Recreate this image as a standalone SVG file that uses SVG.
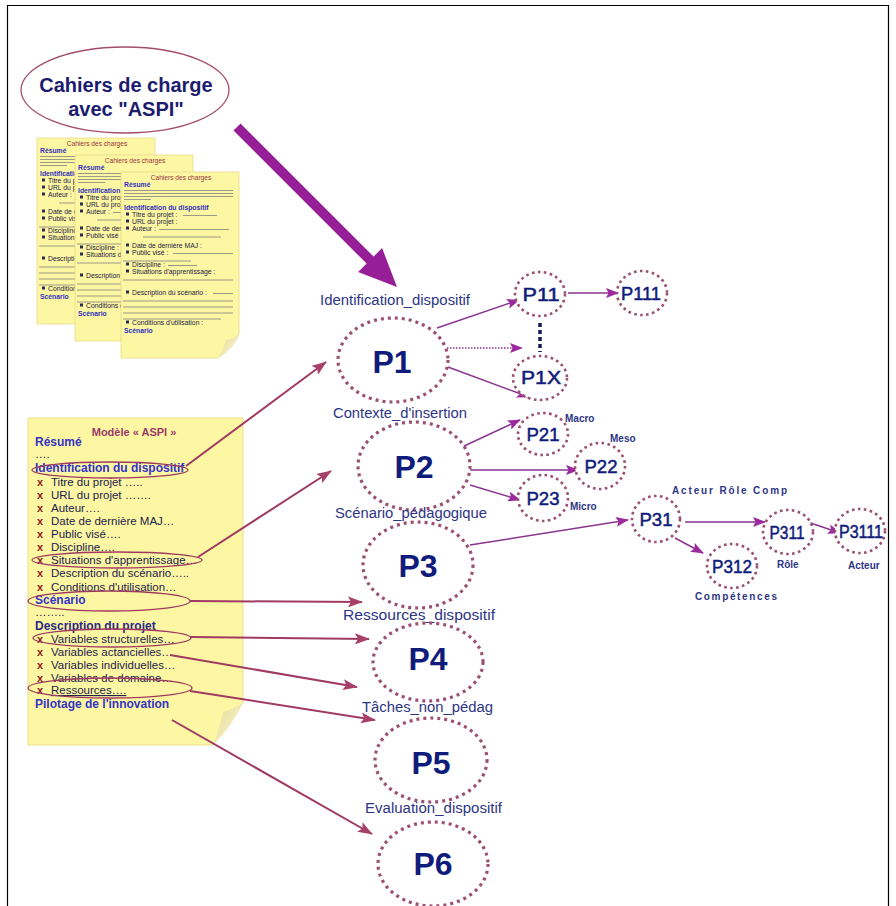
<svg xmlns="http://www.w3.org/2000/svg" width="896" height="906" viewBox="0 0 896 906">
<defs>
<style>
text{font-family:"Liberation Sans",Arial,sans-serif}
.frame{fill:none;stroke:#000;stroke-width:1.2}
.page{fill:#fdf6a2;stroke:#e6dc8a;stroke-width:0.8}
.flap{fill:url(#flapG)}
.pt{font-size:6.6px;fill:#993344}
.ph{font-size:6.8px;font-weight:bold;fill:#3030c0}
.pi{font-size:6.8px;fill:#222244}
.pg{stroke:#9a9a88;stroke-width:1.1;fill:none}
.pb{fill:#2a2a55}
.doc{fill:#fdf7a4;stroke:#eadf8c;stroke-width:1}
.dh{font-size:12px;font-weight:bold;fill:#3434c8}
.dh2{font-size:12px;font-weight:bold;fill:#2a2a86}
.di{font-size:11.5px;fill:#22224c}
.dx{font-size:11px;font-weight:bold;fill:#8b1c1c}
.hl{fill:none;stroke:#9e3a60;stroke-width:1.3}
.big{fill:#ffffff;stroke:#9a5072;stroke-width:3.2;stroke-dasharray:3 4}
.small{fill:#ffffff;stroke:#9a5072;stroke-width:2.6;stroke-dasharray:2.6 3.4}
.bl{font-size:32px;font-weight:bold;fill:#101c7c;text-anchor:middle}
.sl{font-size:18px;fill:#101c7c;stroke:#101c7c;stroke-width:0.5;text-anchor:middle}
.lab{font-size:14px;fill:#2d3585}
.tag{font-size:10px;font-weight:bold;fill:#2d3585}
.ca{stroke:#a03a63;stroke-width:2;fill:none}
.na{stroke:#8a3590;stroke-width:1.5;fill:none}
</style>
<linearGradient id="flapG" x1="0" y1="0" x2="1" y2="1">
<stop offset="0" stop-color="#e2d78a"/>
<stop offset="1" stop-color="#fffbe2"/>
</linearGradient>
<marker id="mc" viewBox="0 0 15 11" refX="14" refY="5.5" markerWidth="15" markerHeight="11" markerUnits="userSpaceOnUse" orient="auto">
<path d="M0,0 L15,5.5 L0,11 L3,5.5 Z" fill="#a8406c"/>
</marker>
<marker id="mn" viewBox="0 0 13 10" refX="12" refY="5" markerWidth="13" markerHeight="10" markerUnits="userSpaceOnUse" orient="auto">
<path d="M0,0 L13,5 L0,10 L2.5,5 Z" fill="#9a2a9e"/>
</marker>
<g id="pageTpl">
<path class="page" d="M0,0 H118 V162 Q112,177 97,186 H0 Z"/>
<path class="flap" d="M118,162 Q112,177 97,186 Q103,176 105,168 Q112,167 118,162 Z"/>
<text class="pt" x="60" y="8" text-anchor="middle">Cahiers des charges</text>
<text class="ph" x="3" y="15">Résumé</text>
<path class="pg" d="M3,18.5 H112 M3,21.5 H112 M3,24.5 H112 M3,27.5 H30"/>
<text class="ph" x="3" y="38">Identification du dispositif</text>
<rect class="pb" x="5" y="40.5" width="3" height="3"/>
<text class="pi" x="11" y="45">Titre du projet :</text>
<path class="pg" d="M62,43.5 H96"/>
<rect class="pb" x="5" y="47.5" width="3" height="3"/>
<text class="pi" x="11" y="52">URL du projet :</text>
<rect class="pb" x="5" y="54.5" width="3" height="3"/>
<text class="pi" x="11" y="59">Auteur :</text>
<path class="pg" d="M38,57.5 H108 M22,65 H100"/>
<rect class="pb" x="5" y="71.5" width="3" height="3"/>
<text class="pi" x="11" y="76">Date de dernière MAJ :</text>
<rect class="pb" x="5" y="78.5" width="3" height="3"/>
<text class="pi" x="11" y="83">Public visé :</text>
<path class="pg" d="M52,81.5 H112 M2,89 H70"/>
<rect class="pb" x="5" y="90.5" width="3" height="3"/>
<text class="pi" x="11" y="95">Discipline :</text>
<path class="pg" d="M47,93.5 H76"/>
<rect class="pb" x="5" y="97.5" width="3" height="3"/>
<text class="pi" x="11" y="102">Situations d'apprentissage :</text>
<path class="pg" d="M2,108 H112"/>
<rect class="pb" x="5" y="118.5" width="3" height="3"/>
<text class="pi" x="11" y="123">Description du scénario :</text>
<path class="pg" d="M92,121.5 H112 M2,129 H112 M2,135 H112 M2,141 H112 M2,147 H100"/>
<rect class="pb" x="5" y="148.5" width="3" height="3"/>
<text class="pi" x="11" y="153">Conditions d'utilisation :</text>
<text class="ph" x="3" y="161">Scénario</text>
</g>
</defs>

<rect width="896" height="906" fill="#ffffff"/>
<path class="frame" d="M7.5,910 V5.5 H888.5 V910"/>

<g id="cahiers-label">
<ellipse cx="125" cy="90" rx="104" ry="43" fill="#ffffff" stroke="#a34d6d" stroke-width="1.3"/>
<text x="126" y="92" text-anchor="middle" font-size="20" font-weight="bold" fill="#1c1c6e">Cahiers de charge</text>
<text x="126" y="116" text-anchor="middle" font-size="20" font-weight="bold" fill="#1c1c6e">avec "ASPI"</text>
</g>

<g id="cahiers-pages">
<use href="#pageTpl" transform="translate(37,138)"/>
<use href="#pageTpl" transform="translate(75,155)"/>
<use href="#pageTpl" transform="translate(121,172)"/>
</g>

<g id="modele-aspi">
<path class="doc" d="M28,418 H243 V702 Q230,727 213,745 H28 Z"/>
<path class="flap" d="M243,702 Q230,727 213,745 Q220,728 223,712 Q235,709 243,702 Z"/>
<text x="134" y="436" text-anchor="middle" font-size="11" font-weight="bold" fill="#9a3a6a">Modèle « ASPI »</text>
<text class="dh" x="35" y="446">Résumé</text>
<text class="di" x="35" y="458">….</text>
<text class="dh" x="35" y="472">Identification du dispositif</text>
<text class="dx" x="37" y="486">x</text><text class="di" x="51" y="486">Titre du projet …..</text>
<text class="dx" x="37" y="499">x</text><text class="di" x="51" y="499">URL du projet …….</text>
<text class="dx" x="37" y="512">x</text><text class="di" x="51" y="512">Auteur….</text>
<text class="dx" x="37" y="525">x</text><text class="di" x="51" y="525">Date de dernière MAJ…</text>
<text class="dx" x="37" y="538">x</text><text class="di" x="51" y="538">Public visé….</text>
<text class="dx" x="37" y="551">x</text><text class="di" x="51" y="551">Discipline….</text>
<text class="dx" x="37" y="564">x</text><text class="di" x="51" y="564">Situations d'apprentissage…</text>
<text class="dx" x="37" y="577">x</text><text class="di" x="51" y="577">Description du scénario…..</text>
<text class="dx" x="37" y="591">x</text><text class="di" x="51" y="591">Conditions d'utilisation…</text>
<text class="dh" x="35" y="604">Scénario</text>
<text class="di" x="35" y="616">……..</text>
<text class="dh2" x="35" y="630">Description du projet</text>
<text class="dx" x="37" y="643">x</text><text class="di" x="51" y="643">Variables structurelles…</text>
<text class="dx" x="37" y="656">x</text><text class="di" x="51" y="656">Variables actancielles…</text>
<text class="dx" x="37" y="669">x</text><text class="di" x="51" y="669">Variables individuelles…</text>
<text class="dx" x="37" y="682">x</text><text class="di" x="51" y="682">Variables de domaine…</text>
<text class="dx" x="37" y="694">x</text><text class="di" x="51" y="694" text-decoration="underline">Ressources….</text>
<text class="dh" x="35" y="708">Pilotage de l'innovation</text>
<ellipse class="hl" cx="110" cy="470" rx="78" ry="8"/>
<ellipse class="hl" cx="117" cy="560" rx="85" ry="8"/>
<ellipse class="hl" cx="109" cy="601" rx="81" ry="10"/>
<ellipse class="hl" cx="112" cy="638" rx="79" ry="9"/>
<ellipse class="hl" cx="110" cy="688" rx="82" ry="10"/>
</g>

<g id="connectors">
<polygon fill="#961e96" points="240.5,123.5 373.6,256.6 382.1,248.1 397,287 358.1,272.1 366.6,263.6 233.5,130.5"/>
<line class="ca" x1="186" y1="466" x2="326" y2="362" marker-end="url(#mc)"/>
<line class="ca" x1="198" y1="557" x2="331" y2="471" marker-end="url(#mc)"/>
<line class="ca" x1="190" y1="601" x2="362" y2="602" marker-end="url(#mc)"/>
<line class="ca" x1="190" y1="637" x2="369" y2="639" marker-end="url(#mc)"/>
<line class="ca" x1="170" y1="655" x2="357" y2="687" marker-end="url(#mc)"/>
<line class="ca" x1="190" y1="691" x2="375" y2="720" marker-end="url(#mc)"/>
<line class="ca" x1="172" y1="720" x2="372" y2="834" marker-end="url(#mc)"/>
<line class="na" x1="437" y1="328" x2="519" y2="300" marker-end="url(#mn)"/>
<line class="na" x1="447" y1="348" x2="522" y2="348" stroke-dasharray="1.5 1.5" marker-end="url(#mn)"/>
<line class="na" x1="448" y1="367" x2="529" y2="397" marker-end="url(#mn)"/>
<line x1="540" y1="323" x2="540" y2="352" stroke="#1a1a5a" stroke-width="3.5" stroke-dasharray="4 3"/>
<line class="na" x1="568" y1="293" x2="618" y2="293" marker-end="url(#mn)"/>
<line class="na" x1="462" y1="447" x2="520" y2="420" marker-end="url(#mn)"/>
<line class="na" x1="470" y1="470" x2="578" y2="470" marker-end="url(#mn)"/>
<line class="na" x1="470" y1="485" x2="520" y2="500" marker-end="url(#mn)"/>
<line class="na" x1="470" y1="545" x2="628" y2="520" marker-end="url(#mn)"/>
<line class="na" x1="685" y1="522" x2="765" y2="522" marker-end="url(#mn)"/>
<line class="na" x1="675" y1="538" x2="703" y2="553" marker-end="url(#mn)"/>
<line class="na" x1="793" y1="517" x2="840" y2="533" marker-end="url(#mn)"/>
</g>

<g id="P1">
<text class="lab" x="320" y="305" textLength="150" lengthAdjust="spacingAndGlyphs">Identification_dispositif</text>
<ellipse class="big" cx="393" cy="360" rx="55" ry="42"/>
<text class="bl" x="392" y="373">P1</text>
</g>
<g id="P11">
<ellipse class="small" cx="540" cy="294" rx="25" ry="22"/>
<text class="sl" x="541" y="301" textLength="37" lengthAdjust="spacingAndGlyphs">P11</text>
</g>
<g id="P111">
<ellipse class="small" cx="642" cy="293" rx="25" ry="22"/>
<text class="sl" x="641" y="300" textLength="40" lengthAdjust="spacingAndGlyphs">P111</text>
</g>
<g id="P1X">
<ellipse class="small" cx="540" cy="378" rx="27" ry="22"/>
<text class="sl" x="541" y="384" textLength="40" lengthAdjust="spacingAndGlyphs">P1X</text>
</g>
<g id="P2">
<text class="lab" x="333" y="418" textLength="134" lengthAdjust="spacingAndGlyphs">Contexte_d'insertion</text>
<ellipse class="big" cx="414" cy="466" rx="56" ry="44"/>
<text class="bl" x="414" y="478">P2</text>
</g>
<g id="P21">
<ellipse class="small" cx="543" cy="434" rx="25" ry="21"/>
<text class="sl" x="543" y="441" textLength="33" lengthAdjust="spacingAndGlyphs">P21</text>
<text class="tag" x="565" y="422">Macro</text>
</g>
<g id="P22">
<ellipse class="small" cx="600" cy="466" rx="25" ry="23"/>
<text class="sl" x="601" y="473" textLength="33" lengthAdjust="spacingAndGlyphs">P22</text>
<text class="tag" x="610" y="442">Meso</text>
</g>
<g id="P23">
<ellipse class="small" cx="543" cy="498" rx="25" ry="23"/>
<text class="sl" x="543" y="505" textLength="33" lengthAdjust="spacingAndGlyphs">P23</text>
<text class="tag" x="570" y="510">Micro</text>
</g>
<g id="P3">
<text class="lab" x="335" y="518" textLength="152" lengthAdjust="spacingAndGlyphs">Scénario_pédagogique</text>
<ellipse class="big" cx="418" cy="565" rx="55" ry="43"/>
<text class="bl" x="418" y="577">P3</text>
</g>
<g id="P31">
<text class="tag" x="672" y="494" textLength="115" lengthAdjust="spacing">Acteur Rôle Comp</text>
<ellipse class="small" cx="656" cy="519" rx="24" ry="23"/>
<text class="sl" x="656" y="526" textLength="33" lengthAdjust="spacingAndGlyphs">P31</text>
</g>
<g id="P311">
<ellipse class="small" cx="788" cy="532" rx="25" ry="22"/>
<text class="sl" x="787" y="539" textLength="35" lengthAdjust="spacingAndGlyphs">P311</text>
<text class="tag" x="777" y="568">Rôle</text>
</g>
<g id="P3111">
<ellipse class="small" cx="860" cy="531" rx="25" ry="22"/>
<text class="sl" x="861" y="538" textLength="44" lengthAdjust="spacingAndGlyphs">P3111</text>
<text class="tag" x="848" y="569">Acteur</text>
</g>
<g id="P312">
<ellipse class="small" cx="732" cy="566" rx="25" ry="22"/>
<text class="sl" x="732" y="573" textLength="40" lengthAdjust="spacingAndGlyphs">P312</text>
<text class="tag" x="695" y="600" textLength="82" lengthAdjust="spacing">Compétences</text>
</g>
<g id="P4">
<text class="lab" x="343" y="620" textLength="152" lengthAdjust="spacingAndGlyphs">Ressources_dispositif</text>
<ellipse class="big" cx="428" cy="662" rx="55" ry="39"/>
<text class="bl" x="428" y="670">P4</text>
</g>
<g id="P5">
<text class="lab" x="362" y="712" textLength="131" lengthAdjust="spacingAndGlyphs">Tâches_non_pédag</text>
<ellipse class="big" cx="431" cy="760" rx="56" ry="42"/>
<text class="bl" x="431" y="774">P5</text>
</g>
<g id="P6">
<text class="lab" x="365" y="813" textLength="137" lengthAdjust="spacingAndGlyphs">Evaluation_dispositif</text>
<ellipse class="big" cx="433" cy="864" rx="55" ry="42"/>
<text class="bl" x="433" y="875">P6</text>
</g>
</svg>
